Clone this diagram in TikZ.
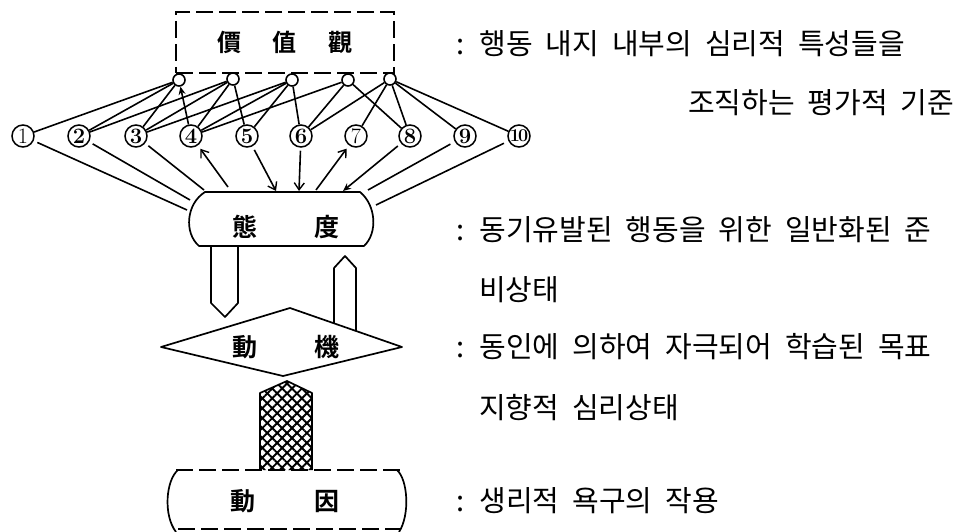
\documentclass[tikz,border=0pt]{standalone}
\usepackage{fontspec}
\newfontfamily\kr{Noto Sans CJK KR}
\newfontfamily\hj[BoldFont={Noto Sans CJK KR Bold}]{Noto Sans CJK KR}
\usetikzlibrary{arrows.meta,patterns.meta}
\newcommand\descfont{\kr\fontsize{29}{29}\selectfont\fontdimen2\font=13pt\relax}
\begin{document}
\begin{tikzpicture}[x=1pt,y=-1pt,
  conn/.style={line width=1.6pt},
  shapeline/.style={line width=1.7pt, line join=round},
  dashline/.style={line width=1.5pt, dash pattern=on 17pt off 6pt},
  num/.style={circle, draw, line width=1.5pt, inner sep=0pt, minimum size=22pt,
    font=\fontsize{22}{22}\selectfont\bfseries},
  thinnum/.style={num, font=\fontsize{22}{22}\selectfont},
  knob/.style={circle, draw, line width=1.6pt, fill=white, inner sep=0pt, minimum size=12pt},
  barb/.style={-{Straight Barb[length=7pt,width=10pt,line width=1.4pt]}},
  solidtip/.style={-{Stealth[length=8pt,width=7pt]}},
  hanja/.style={font=\hj\bfseries\fontsize{24}{24}\selectfont, inner sep=0pt},
  bighanja/.style={font=\hj\bfseries\fontsize{25}{25}\selectfont, inner sep=0pt},
  desc/.style={font=\descfont, anchor=west, inner sep=0pt}
]
\useasboundingbox (0,0) rectangle (966,532);

% value box
\node[draw, dashline, minimum width=218pt, minimum height=61pt, inner sep=0pt, hanja]
  (valbox) at (285,42.5) {價\hspace{32pt}值\hspace{32pt}觀};

% knobs
\node[knob] (c1) at (179,80) {};
\node[knob] (c2) at (233,79) {};
\node[knob] (c3) at (292,80) {};
\node[knob] (c4) at (348,80) {};
\node[knob] (c5) at (390,79) {};

% numbered circles
\node[thinnum] (n1) at (23,136) {1};
\node[num] (n2) at (79,136) {2};
\node[num] (n3) at (136,136) {3};
\node[num] (n4) at (191,136) {4};
\node[num] (n5) at (247,136) {5};
\node[num] (n6) at (301,136) {6};
\node[thinnum] (n7) at (356,136) {7};
\node[num] (n8) at (410,136) {8};
\node[num] (n9) at (465,136) {9};
\node[num, font=\fontsize{18}{18}\selectfont\bfseries] (n10) at (519,136) {1\kern-2pt0};

% knob links
\draw[conn] (c1) -- (n1);
\draw[conn] (c1) -- (n2);
\draw[conn] (c1) -- (n3);
\draw[conn, solidtip] (n4) -- (c1);
\draw[conn] (c2) -- (n2);
\draw[conn] (c2) -- (n3);
\draw[conn] (c2) -- (n4);
\draw[conn] (c2) -- (n5);
\draw[conn] (c3) -- (n3);
\draw[conn] (c3) -- (n4);
\draw[conn] (c3) -- (n5);
\draw[conn] (c3) -- (n6);
\draw[conn] (c4) -- (n4);
\draw[conn] (c4) -- (n6);
\draw[conn] (c4) -- (n8);
\draw[conn] (c5) -- (n6);
\draw[conn] (c5) -- (n7);
\draw[conn] (c5) -- (n8);
\draw[conn] (c5) -- (n9);
\draw[conn] (c5) -- (n10);

% attitude box
\draw[shapeline] (205,192) -- (360,192) .. controls (376,205) and (378,233) .. (364,246)
  -- (199,246) .. controls (184,233) and (186,204) .. (205,192) -- cycle;
\node[bighanja] (attitude) at (286,227) {態\hspace{57pt}度};
\coordinate (a1) at (187,210);
\coordinate (a2) at (190,200);
\coordinate (a3) at (204,190);
\coordinate (a4) at (228,187);
\coordinate (a5) at (276,191);
\coordinate (a6) at (299,191);
\coordinate (a7) at (316,190);
\coordinate (a8) at (343,191);
\coordinate (a9) at (368,190);
\coordinate (a10) at (376,205);

\draw[conn, shorten <=4pt] (n1) -- (a1);
\draw[conn, shorten <=4pt] (n2) -- (a2);
\draw[conn, shorten <=4pt] (n3) -- (a3);
\draw[conn, barb, shorten >=4pt] (a4) -- (n4);
\draw[conn, barb, shorten <=4pt] (n5) -- (a5);
\draw[conn, barb, shorten <=3pt] (n6) -- (a6);
\draw[conn, barb, shorten >=4pt] (a7) -- (n7);
\draw[conn, solidtip, shorten <=4pt] (n8) -- (a8);
\draw[conn, shorten <=5pt] (n9) -- (a9);
\draw[conn, shorten <=5pt] (n10) -- (a10);

% motive diamond
\coordinate (dl) at (161,347);
\coordinate (dt) at (290,308);
\coordinate (dr) at (402,347);
\coordinate (db) at (283,376);
\draw[shapeline] (dl) -- (dt) -- (dr) -- (db) -- cycle;
\node[bighanja] (motive) at (286,347) {動\hspace{57pt}機};

% block arrows between attitude and motive
\draw[shapeline] (211,246) -- (211,303) -- (225,317) -- (238,303) -- (238,246);
\draw[shapeline] (334,323) -- (334,268) -- (345,256) -- (356,268) -- (356,331);

% hatched column
\path[pattern={Lines[angle=45,distance=7pt,line width=1.9pt]}]
  (260,470) -- (260,393) -- (287,381) -- (312,393) -- (312,470) -- cycle;
\path[pattern={Lines[angle=-45,distance=7pt,line width=1.9pt]}]
  (260,470) -- (260,393) -- (287,381) -- (312,393) -- (312,470) -- cycle;
\draw[shapeline] (260,470) -- (260,393) -- (287,381) -- (312,393) -- (312,470);

% drive box
\draw[dashline] (176,470) -- (402,470);
\draw[dashline] (178,529) -- (400,529);
\draw[shapeline] (178,470) .. controls (166,480) and (163,515) .. (176,532);
\draw[shapeline] (397,470) .. controls (408,480) and (410,515) .. (399,532);
\node[bighanja] (drive) at (285,501) {動\hspace{59pt}因};

% descriptions
\node[desc] (d1) at (456,44) {: 행동 내지 내부의 심리적 특성들을};
\node[desc] (d1b) at (688,103) {조직하는 평가적 기준};
\node[desc] (d2) at (456,230) {: 동기유발된 행동을 위한 일반화된 준};
\node[desc] (d2b) at (479,290) {비상태};
\node[desc] (d3) at (456,347) {: 동인에 의하여 자극되어 학습된 목표};
\node[desc] (d3b) at (479,408) {지향적 심리상태};
\node[desc] (d4) at (456,501) {: 생리적 욕구의 작용};
\end{tikzpicture}
\end{document}
